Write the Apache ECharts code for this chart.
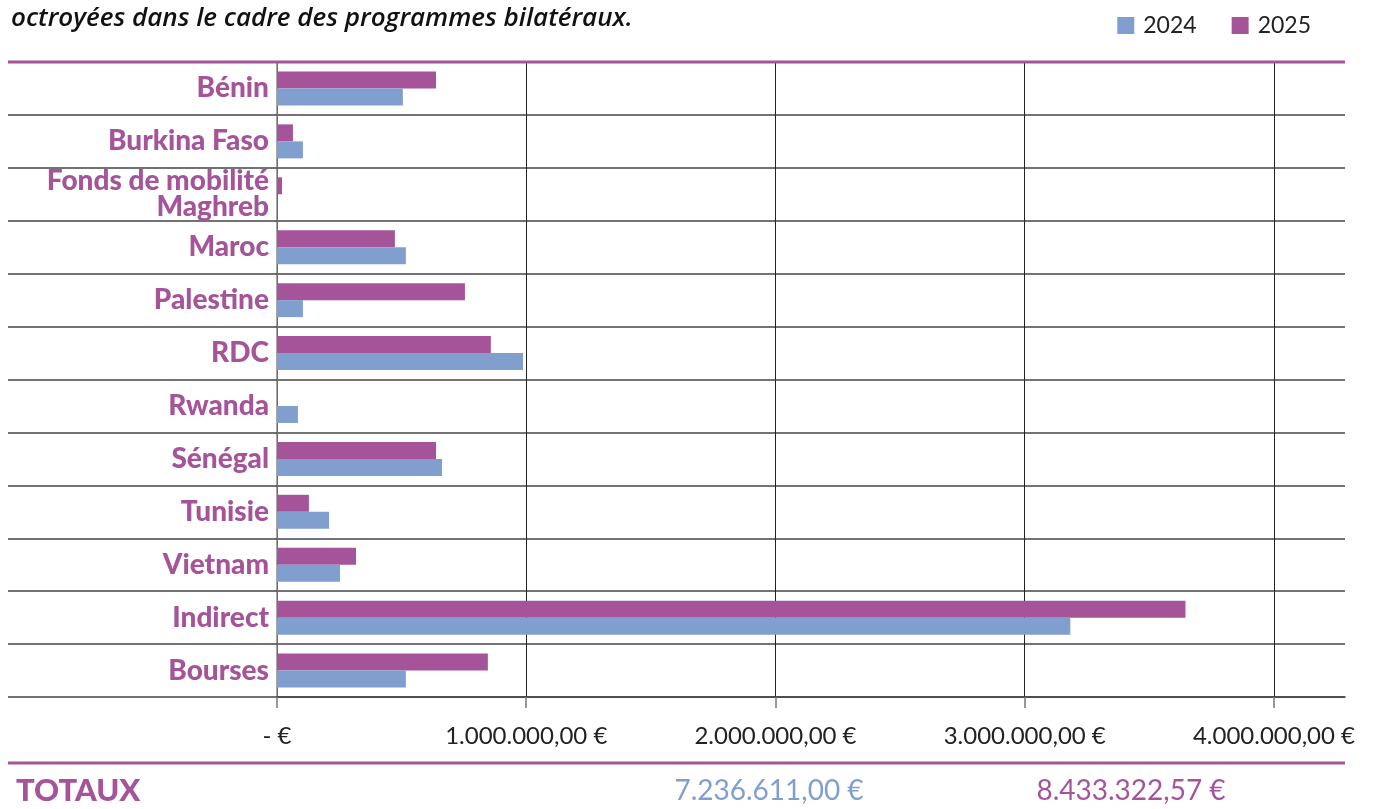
<!DOCTYPE html>
<html>
<head>
<meta charset="utf-8">
<script src="https://cdn.jsdelivr.net/npm/echarts@6/dist/echarts.min.js"></script>
<style>
html,body{margin:0;padding:0;background:#fff;}
#chart{width:1376px;height:809px;}
</style>
</head>
<body>
<div id="chart"></div>
<script>
const titleText = 'octroyées dans le cadre des programmes bilatéraux.';
const categories = ['Bénin', 'Burkina Faso', 'Fonds de mobilité\nMaghreb', 'Maroc', 'Palestine', 'RDC', 'Rwanda', 'Sénégal', 'Tunisie', 'Vietnam', 'Indirect', 'Bourses'];
const seriesNames = ['2024', '2025'];
const values2024 = [505000, 104000, 0, 517000, 104000, 987000, 84000, 662000, 209000, 253000, 3183000, 517000];
const values2025 = [638000, 64000, 20000, 473000, 754000, 858000, 0, 638000, 128000, 317000, 3645000, 846000];
const tickValues = [0, 1000000, 2000000, 3000000, 4000000];
const totalsLabel = 'TOTAUX';
const totals = ['7.236.611,00 €', '8.433.322,57 €'];

const BLUE = '#809fce';
const PURPLE = '#a5549a';
const FONT = 'Lato, "Noto Sans", sans-serif';

function fmt(v) {
  if (v === 0) return '- €';
  const s = Math.round(v).toString().replace(/\B(?=(\d{3})+(?!\d))/g, '.');
  return s + ',00 €';
}

const chart = echarts.init(document.getElementById('chart'));
const option = {
  animation: false,
  title: {
    text: titleText, left: 6, top: 1,
    textStyle: { fontFamily: '"Open Sans", Lato, sans-serif', fontStyle: 'italic', fontWeight: 600, fontSize: 26, color: '#111' }
  },
  legend: {
    data: seriesNames, right: 60, top: 9, icon: 'rect', itemWidth: 17, itemHeight: 17, itemGap: 35,
    textStyle: { fontFamily: FONT, fontSize: 23, color: '#222', padding: [0, 0, 0, 4] }
  },
  grid: { left: 277, right: 31, top: 62, bottom: 112, containLabel: false },
  xAxis: {
    type: 'value', min: 0, max: 4285000, interval: 1000000,
    axisLine: { show: true, lineStyle: { color: '#444', width: 1.5 } },
    axisTick: { show: true, length: 11, lineStyle: { color: '#777', width: 1.5 }, customValues: tickValues },
    axisLabel: { margin: 27, fontFamily: FONT, fontSize: 24, color: '#222', formatter: fmt, customValues: tickValues },
    splitLine: { show: true, lineStyle: { color: '#222', width: 1 } }
  },
  yAxis: {
    type: 'category', inverse: true, data: categories,
    axisLine: { show: true, lineStyle: { color: '#888', width: 1.5 } },
    axisTick: { show: true, length: 269, lineStyle: { color: '#444', width: 1.5 } },
    splitLine: { show: true, lineStyle: { color: '#444', width: 1.5 } },
    axisLabel: { margin: 8, fontFamily: FONT, fontSize: 28, fontWeight: 900, color: PURPLE, lineHeight: 26, padding: [4, 0, 0, 0] }
  },
  series: [
    { name: '2025', type: 'bar', data: values2025, barWidth: 17, barGap: '0%', itemStyle: { color: PURPLE }, z: 3 },
    { name: '2024', type: 'bar', data: values2024, barWidth: 17, barGap: '0%', itemStyle: { color: BLUE }, z: 3 }
  ],
  color: [PURPLE, BLUE]
};
chart.setOption(option);

// decorations derived from the grid rectangle
const gridRect = chart.getModel().getComponent('grid', 0).coordinateSystem.getRect();
const leftEdge = 8;
const rightEdge = gridRect.x + gridRect.width;
const sepY = 763;
chart.setOption({
  graphic: [
    { type: 'line', z: 100, shape: { x1: leftEdge, y1: gridRect.y, x2: rightEdge, y2: gridRect.y }, style: { stroke: PURPLE, lineWidth: 3 } },
    { type: 'line', z: 100, shape: { x1: leftEdge, y1: sepY, x2: rightEdge, y2: sepY }, style: { stroke: PURPLE, lineWidth: 3 } },
    { type: 'text', z: 100, x: 16, y: 791, style: { text: totalsLabel, textVerticalAlign: 'middle', fontFamily: FONT, fontWeight: 900, fontSize: 31, fill: PURPLE } },
    { type: 'text', z: 100, x: 769, y: 791, style: { text: totals[0], textAlign: 'center', textVerticalAlign: 'middle', fontFamily: FONT, fontSize: 28, fill: BLUE } },
    { type: 'text', z: 100, x: 1131, y: 791, style: { text: totals[1], textAlign: 'center', textVerticalAlign: 'middle', fontFamily: FONT, fontSize: 28, fill: PURPLE } }
  ]
});
</script>
</body>
</html>
